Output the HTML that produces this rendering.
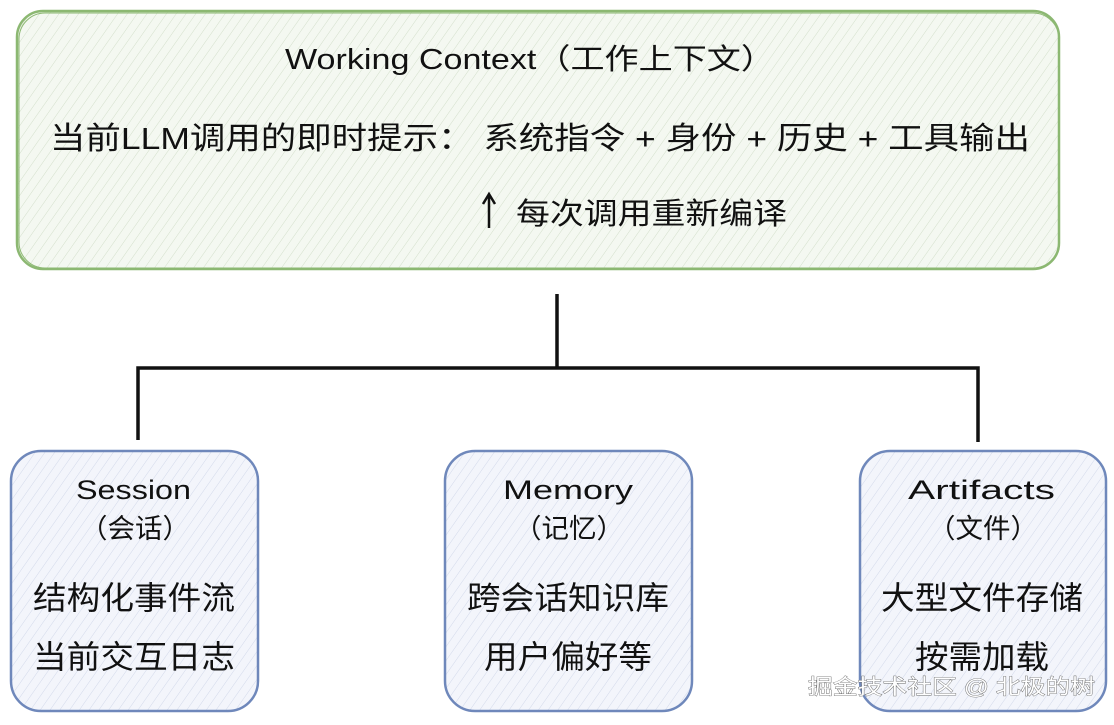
<!DOCTYPE html>
<html><head><meta charset="utf-8"><style>
html,body{margin:0;padding:0;background:#fff;}
svg text{font-family:"Liberation Sans","Noto Sans CJK SC",sans-serif;fill:#111;}
</style></head><body>
<svg width="1114" height="720" viewBox="0 0 1114 720" xmlns="http://www.w3.org/2000/svg">
<defs>
<pattern id="hg" width="8" height="8" patternUnits="userSpaceOnUse" patternTransform="rotate(35)">
<rect width="8" height="8" fill="#f4f8f1"/><line x1="0" y1="0" x2="0" y2="8" stroke="#d3dfcb" stroke-width="1"/></pattern>
<pattern id="hb" width="8" height="8" patternUnits="userSpaceOnUse" patternTransform="rotate(35)">
<rect width="8" height="8" fill="#f3f5fb"/><line x1="0" y1="0" x2="0" y2="8" stroke="#d2d9ea" stroke-width="1"/></pattern>
</defs>
<rect x="17" y="11" width="1042" height="258" rx="26" fill="url(#hg)" stroke="#8cb872" stroke-width="2.5"/>
<rect x="19" y="13" width="1040" height="255" rx="26" fill="none" stroke="#8cb872" stroke-width="1"/>
<text x="285" y="69" font-size="29" textLength="490" lengthAdjust="spacingAndGlyphs">Working Context（工作上下文）</text>
<text x="50" y="149" font-size="31" textLength="980" lengthAdjust="spacingAndGlyphs">当前LLM调用的即时提示：  系统指令 + 身份  + 历史  + 工具输出</text>
<path d="M489 228 L489 196 M483 204 L489 194 L495 204" stroke="#111" stroke-width="2.5" fill="none"/>
<text x="516" y="224" font-size="30" textLength="271" lengthAdjust="spacingAndGlyphs">每次调用重新编译</text>
<path d="M557 294 L557 368 M138 440 L138 368 L978 368 L978 442" stroke="#111" stroke-width="3.5" fill="none"/>
<g stroke="#6f88bb" stroke-width="2.5">
<rect x="11" y="451" width="247" height="260" rx="30" fill="url(#hb)"/>
<rect x="445" y="451" width="247" height="260" rx="30" fill="url(#hb)"/>
<rect x="860" y="451" width="246" height="260" rx="30" fill="url(#hb)"/>
</g>
<g font-size="27">
<text x="76" y="499" textLength="115" lengthAdjust="spacingAndGlyphs">Session</text><text x="80" y="538" textLength="110" lengthAdjust="spacingAndGlyphs">（会话）</text>
<text x="503" y="499" textLength="130" lengthAdjust="spacingAndGlyphs">Memory</text><text x="514" y="538" textLength="110" lengthAdjust="spacingAndGlyphs">（记忆）</text>
<text x="908" y="499" textLength="147" lengthAdjust="spacingAndGlyphs">Artifacts</text><text x="928" y="538" textLength="110" lengthAdjust="spacingAndGlyphs">（文件）</text>
</g>
<g font-size="32">
<text x="33" y="609" textLength="202" lengthAdjust="spacingAndGlyphs">结构化事件流</text><text x="33" y="668" textLength="202" lengthAdjust="spacingAndGlyphs">当前交互日志</text>
<text x="467" y="609" textLength="202" lengthAdjust="spacingAndGlyphs">跨会话知识库</text><text x="484" y="668" textLength="168" lengthAdjust="spacingAndGlyphs">用户偏好等</text>
<text x="881" y="609" textLength="202" lengthAdjust="spacingAndGlyphs">大型文件存储</text><text x="915" y="668" textLength="134" lengthAdjust="spacingAndGlyphs">按需加载</text>
</g>
<text x="808" y="694" font-size="21" textLength="287" lengthAdjust="spacingAndGlyphs" style="fill:#fff;stroke:#666;stroke-width:0.8;paint-order:stroke">掘金技术社区 @ 北极的树</text>
</svg>
</body></html>
